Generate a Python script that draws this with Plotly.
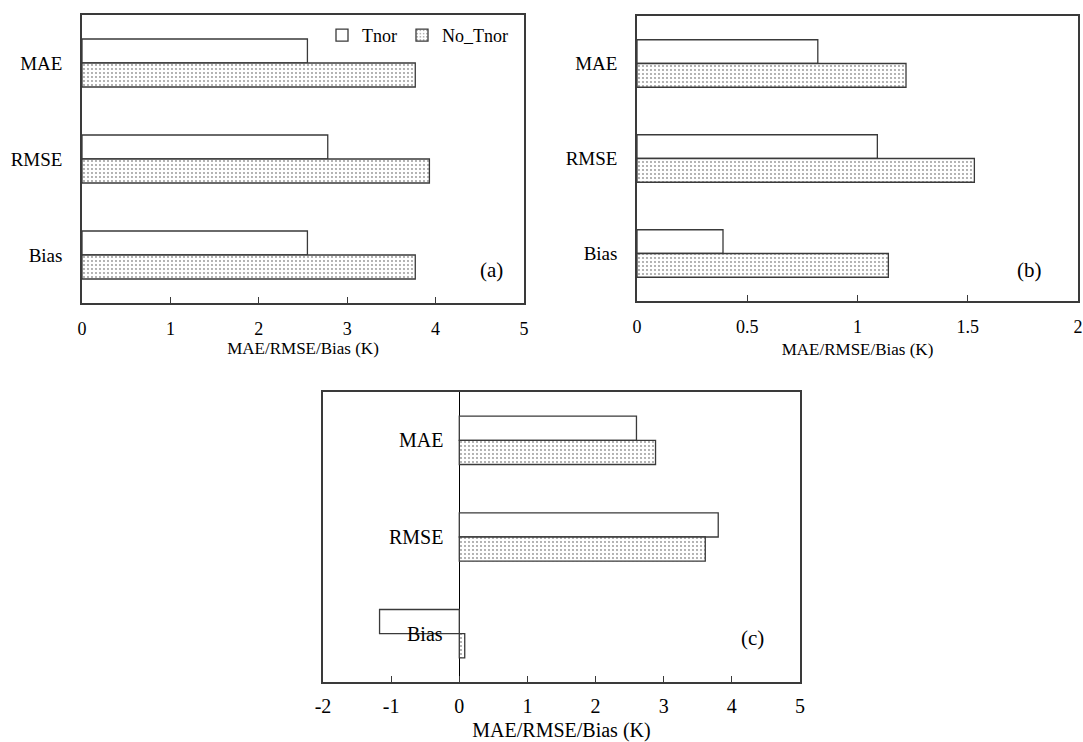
import plotly.graph_objects as go

categories = ["MAE", "RMSE", "Bias"]
series_names = ["Tnor", "No_Tnor"]

a_tnor = [2.55, 2.78, 2.55]
a_no_tnor = [3.77, 3.93, 3.77]

b_tnor = [0.82, 1.09, 0.39]
b_no_tnor = [1.22, 1.53, 1.14]

c_tnor = [2.60, 3.80, -1.17]
c_no_tnor = [2.88, 3.61, 0.08]

a_ticks = [0, 1, 2, 3, 4, 5]
b_ticks = [0, 0.5, 1, 1.5, 2]
b_ticktext = ["0", "0.5", "1", "1.5", "2"]
c_ticks = [-2, -1, 0, 1, 2, 3, 4, 5]
c_ticktext = ["-2", "-1", "0", "1", "2", "3", "4", "5"]

axis_title = "MAE/RMSE/Bias (K)"
panel_labels = ["(a)", "(b)", "(c)"]

FONT = "Liberation Serif"
W, H = 1083, 742
LINE = "#3a3a3a"


def px(x):
    return x / W


def py(y):
    return 1 - y / H


fig = go.Figure()

panels = [
    ("x", "y", a_tnor, a_no_tnor, True),
    ("x2", "y2", b_tnor, b_no_tnor, False),
    ("x3", "y3", c_tnor, c_no_tnor, False),
]

for xa, ya, tn, nt, show in panels:
    fig.add_trace(go.Bar(
        y=categories, x=tn, orientation="h", name=series_names[0],
        xaxis=xa, yaxis=ya, showlegend=show, legendgroup="t",
        marker=dict(color="white", line=dict(color=LINE, width=1.3)),
    ))
    fig.add_trace(go.Bar(
        y=categories, x=nt, orientation="h", name=series_names[1],
        xaxis=xa, yaxis=ya, showlegend=show, legendgroup="n",
        marker=dict(color="white", line=dict(color=LINE, width=1.3),
                    pattern=dict(shape=".", size=4, solidity=0.16,
                                 fgcolor="#222222", bgcolor="white")),
    ))

f_title = 17
f_tick = 18
f_cat = 19
f_c = 20


def xfont(s):
    return dict(family=FONT, size=s, color="black")


common_x = dict(showline=True, mirror=True, linecolor=LINE, linewidth=1.5,
                showgrid=False, ticks="inside", ticklen=6, tickcolor=LINE,
                tickwidth=1.2, automargin=False)
common_y = dict(showline=True, mirror=True, linecolor=LINE, linewidth=1.5,
                showgrid=False, ticks="", type="category",
                categoryorder="array", categoryarray=categories,
                autorange="reversed", automargin=False)

fig.update_layout(
    width=W, height=H,
    margin=dict(l=0, r=0, t=0, b=0),
    paper_bgcolor="white", plot_bgcolor="white",
    font=dict(family=FONT, color="black", size=f_title),
    barmode="group", bargap=0.5, bargroupgap=0,
    showlegend=True,
    legend=dict(orientation="h", x=px(322), y=py(17), xanchor="left",
                yanchor="top", bgcolor="rgba(0,0,0,0)",
                font=xfont(18), itemwidth=30, tracegroupgap=0),
    xaxis=dict(domain=[px(82), px(524)], range=[0, 5], tickvals=a_ticks,
               anchor="y", zeroline=False, ticklabelstandoff=9,
               tickfont=xfont(f_tick),
               title=dict(text=axis_title, standoff=4, font=xfont(f_title)),
               **common_x),
    yaxis=dict(domain=[py(303), py(15)], anchor="x", ticklabelstandoff=14,
               tickfont=xfont(f_cat), **common_y),
    xaxis2=dict(domain=[px(637), px(1078)], range=[0, 2], tickvals=b_ticks,
                ticktext=b_ticktext,
                anchor="y2", zeroline=False, ticklabelstandoff=9,
                tickfont=xfont(f_tick),
                title=dict(text=axis_title, standoff=7, font=xfont(f_title)),
                **common_x),
    yaxis2=dict(domain=[py(301), py(16)], anchor="x2", ticklabelstandoff=14,
                tickfont=xfont(f_cat), **common_y),
    xaxis3=dict(domain=[px(323), px(800)], range=[-2, 5], tickvals=c_ticks,
                ticktext=c_ticktext,
                anchor="y3", zeroline=True, zerolinecolor="black",
                zerolinewidth=1.2, ticklabelstandoff=5,
                tickfont=xfont(f_c),
                title=dict(text=axis_title, standoff=10, font=xfont(f_c)),
                **common_x),
    yaxis3=dict(domain=[py(682), py(392)], anchor="x3", showticklabels=False,
                **common_y),
)

# category labels for panel (c) sit beside the zero line
for cat in categories:
    fig.add_annotation(x=0, y=cat, xref="x3", yref="y3", text=cat,
                       showarrow=False, xanchor="right", xshift=-14,
                       font=xfont(f_c))

# panel letters
fig.add_annotation(x=px(491), y=py(270), xref="paper", yref="paper",
                   text=panel_labels[0], showarrow=False, font=xfont(21))
fig.add_annotation(x=px(1044), y=py(270), xref="paper", yref="paper",
                   text=panel_labels[1], showarrow=False, font=xfont(21))
fig.add_annotation(x=px(766), y=py(652), xref="paper", yref="paper",
                   text=panel_labels[2], showarrow=False, font=xfont(21))

fig.write_html("out.html")
